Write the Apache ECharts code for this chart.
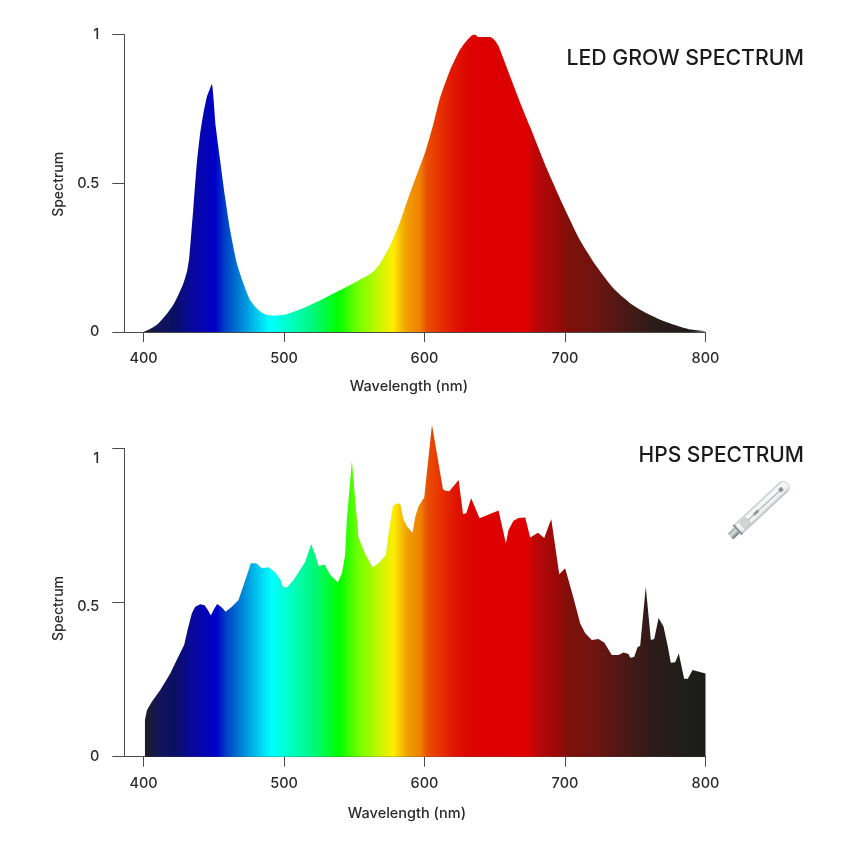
<!DOCTYPE html>
<html><head><meta charset="utf-8">
<style>html,body{margin:0;padding:0;background:#fff}#c{width:850px;height:850px}</style>
<script src="https://cdn.jsdelivr.net/npm/echarts@6/dist/echarts.min.js"></script>
</head><body><div id="c"></div>
<script>
const xTicks=[400,500,600,700,800];
const yTicks=[0,0.5,1];
const ledData=[[400,0],[404,.008],[409.5,.024],[415,.052],[421,.09],[425,.127],[428.4,.164],[431,.205],[432.5,.25],[433.6,.31],[435.5,.42],[437.9,.567],[440.3,.668],[442.6,.735],[445,.79],[447,.815],[448.6,.834],[451.4,.69],[454.5,.578],[458,.455],[461.6,.343],[466.4,.231],[471,.164],[475.8,.108],[480.5,.08],[484,.066],[487.7,.058],[492.4,.055],[501.9,.06],[516,.085],[530,.117],[544.6,.152],[558.8,.188],[564,.205],[568.3,.23],[575.4,.29],[582.6,.371],[588,.445],[594.4,.528],[600.8,.61],[606.3,.70],[611,.787],[618.1,.88],[625.3,.95],[630,.98],[634.7,1],[636,1],[638.3,.992],[646.6,.992],[650.2,.98],[652.6,.963],[660.9,.86],[668,.772],[675.1,.69],[687,.55],[698.8,.425],[710.7,.309],[722.5,.22],[734.4,.147],[746.3,.097],[758.1,.063],[770,.037],[781.9,.018],[790,.008],[800,.002]];
const hpsData=[[401,0],[401,.119],[402.4,.151],[405.9,.178],[411.9,.216],[419,.27],[423.7,.314],[428.9,.362],[431.3,.411],[434.4,.465],[436.8,.486],[440.3,.494],[443.4,.491],[445.8,.476],[447.9,.458],[449.8,.476],[452.4,.495],[455.8,.484],[458.4,.47],[462.9,.486],[467.6,.508],[471.6,.562],[476.4,.627],[480.2,.627],[484.2,.611],[489,.614],[493.7,.597],[497.3,.575],[499.2,.551],[502,.549],[506.8,.573],[515.1,.632],[519.3,.69],[522.2,.654],[524.6,.618],[528.8,.623],[532.9,.589],[538.3,.565],[541.2,.595],[543.5,.654],[544.7,.768],[548.3,.96],[550.7,.832],[553,.711],[557.8,.657],[563,.614],[567.3,.627],[572.5,.654],[574.4,.724],[577.5,.813],[580.3,.822],[582.7,.819],[585.1,.768],[587.9,.744],[591.5,.726],[593.4,.778],[595.7,.811],[599.8,.841],[605.3,1.076],[613.1,.867],[614.8,.862],[617.6,.861],[624.3,.897],[627.4,.787],[629.7,.789],[633.2,.838],[639.2,.773],[652.7,.798],[657.9,.692],[659.8,.735],[663.3,.765],[666.9,.774],[671.7,.776],[675.2,.711],[680.7,.726],[685.2,.709],[690.2,.771],[695.9,.592],[700.1,.611],[706.1,.514],[710.8,.432],[714.4,.4],[719.1,.378],[723.8,.382],[727.9,.37],[733.3,.33],[738.1,.33],[741.6,.338],[745.2,.333],[746.4,.321],[749.2,.323],[751.6,.355],[753.5,.36],[757.5,.551],[761.1,.378],[763.5,.382],[766.6,.45],[770.1,.422],[773.2,.357],[775.3,.305],[778.4,.306],[781,.335],[784.8,.253],[787.4,.253],[790.8,.281],[800,.27]];
const spectrumStops=[[400,'#1c1c22'],[410,'#14145a'],[421,'#0a1060'],[435,'#0808a0'],[451,'#0000c8'],[458,'#0040c8'],[466,'#0070d0'],[478,'#00b8e8'],[490,'#00ffff'],[505,'#00ffc0'],[520,'#00f880'],[538.5,'#00ff00'],[552,'#70ff00'],[565,'#b8f800'],[577.6,'#ffee00'],[582,'#f8c800'],[587,'#f0a000'],[596.8,'#f08000'],[601.5,'#e85000'],[608.7,'#e83800'],[620,'#e01800'],[632,'#dc0400'],[644,'#dc0000'],[672.7,'#e00000'],[680,'#b80808'],[691.6,'#a00808'],[703.5,'#7c1008'],[720,'#701410'],[739,'#501814'],[762.8,'#2c1c1a'],[786.6,'#1e1e1c'],[800,'#1c1c1c']];
const FONT='Inter, "Noto Sans", sans-serif';
const INK='#2a2a2a', AXIS='#4a4a4a';
const fill=()=>new echarts.graphic.LinearGradient(0,0,1,0,spectrumStops.map(([w,c])=>({offset:(w-400)/400,color:c})));
const labelOffsets={0:'d0','0.5':'d0',1:'d0'};
const hpsOffsets={0:'d0','0.5':'d5',1:'d10'};
const tickStyle={fontFamily:FONT,fontSize:14.5,fontWeight:500,color:INK};
function xA(i,gap,pr){return {gridIndex:i,type:'value',min:386.3,max:800,name:'Wavelength (nm)',nameLocation:'middle',nameGap:gap,
 nameTextStyle:{fontFamily:FONT,fontSize:14.5,fontWeight:500,color:INK,padding:[0,pr,0,0]},
 splitLine:{show:false},axisLine:{lineStyle:{color:AXIS,width:1}},
 axisTick:{length:10,customValues:xTicks,lineStyle:{color:AXIS}},
 axisLabel:{...tickStyle,margin:19,customValues:xTicks,hideOverlap:false}};}
function yA(i,map,np){return {gridIndex:i,type:'value',min:0,max:1,name:'Spectrum',nameLocation:'middle',nameGap:59,
 nameTextStyle:{fontFamily:FONT,fontSize:14,fontWeight:500,color:INK,padding:np},
 splitLine:{show:false},axisLine:{show:true,lineStyle:{color:AXIS,width:1}},
 axisTick:{show:true,length:12,customValues:yTicks,lineStyle:{color:AXIS}},
 axisLabel:{...tickStyle,margin:25,customValues:yTicks,
  formatter:v=>`{${map[v]}|${v}}`,
  rich:{d0:{...tickStyle},d5:{...tickStyle,padding:[9,0,0,0]},d10:{...tickStyle,padding:[21,0,0,0]}}}};}
const bulb={type:'group',x:759,y:510,rotation:0.75,children:[
 {type:'rect',shape:{x:-29,y:-6,width:68,height:12,r:[1,6,6,1]},style:{fill:new echarts.graphic.LinearGradient(0,0,0,1,[{offset:0,color:'#c4c8ca'},{offset:.2,color:'#f7f8f8'},{offset:.75,color:'#eef0f0'},{offset:1,color:'#b4b9bb'}]),stroke:'#b0b5b8',lineWidth:.6}},
 {type:'line',shape:{x1:-16,y1:0,x2:30,y2:0},style:{stroke:'#a8acae',lineWidth:1}},
 {type:'rect',shape:{x:-7,y:-1.5,width:6,height:3},style:{fill:'#9a9a94'}},
 {type:'rect',shape:{x:-23,y:-4,width:8,height:8},style:{fill:'#d2d5d3',stroke:'#9a9a9a',lineWidth:.4}},
 {type:'rect',shape:{x:28,y:-2,width:4,height:4},style:{fill:'#8a8e90'}},
 {type:'rect',shape:{x:-30,y:-6.5,width:2,height:13},style:{fill:'#8a8e90'}},
 {type:'rect',shape:{x:-39,y:-4,width:9,height:8,r:1},style:{fill:new echarts.graphic.LinearGradient(0,0,0,1,[{offset:0,color:'#9a9e9f'},{offset:.4,color:'#dcdede'},{offset:1,color:'#6e7274'}])}}
]};
const chart=echarts.init(document.getElementById('c'),null,{renderer:'canvas'});
chart.setOption({
 backgroundColor:'#fff',animation:false,
 title:[
  {text:'LED GROW SPECTRUM',right:46,top:48,padding:0,textStyle:{fontFamily:FONT,fontSize:21.3,fontWeight:500,color:'#1a1a1a'}},
  {text:'HPS SPECTRUM',right:46,top:445,padding:0,textStyle:{fontFamily:FONT,fontSize:21,fontWeight:500,color:'#1a1a1a'}}
 ],
 grid:[
  {left:124.3,right:144.5,top:34.7,height:297.3,containLabel:false},
  {left:124.3,right:144.5,top:448.3,height:308.4,containLabel:false}
 ],
 xAxis:[xA(0,47,12),xA(1,49,16)],
 yAxis:[yA(0,labelOffsets,[0,2,0,0]),yA(1,hpsOffsets,[0,12,0,0])],
 series:[
  {type:'line',xAxisIndex:0,yAxisIndex:0,data:ledData,symbol:'none',clip:false,smooth:0.2,lineStyle:{width:0},areaStyle:{color:fill(),opacity:1},z:1},
  {type:'line',xAxisIndex:1,yAxisIndex:1,data:hpsData,symbol:'none',clip:false,lineStyle:{width:0},areaStyle:{color:fill(),opacity:1},z:1}
 ],
 graphic:[bulb]
});
</script></body></html>
